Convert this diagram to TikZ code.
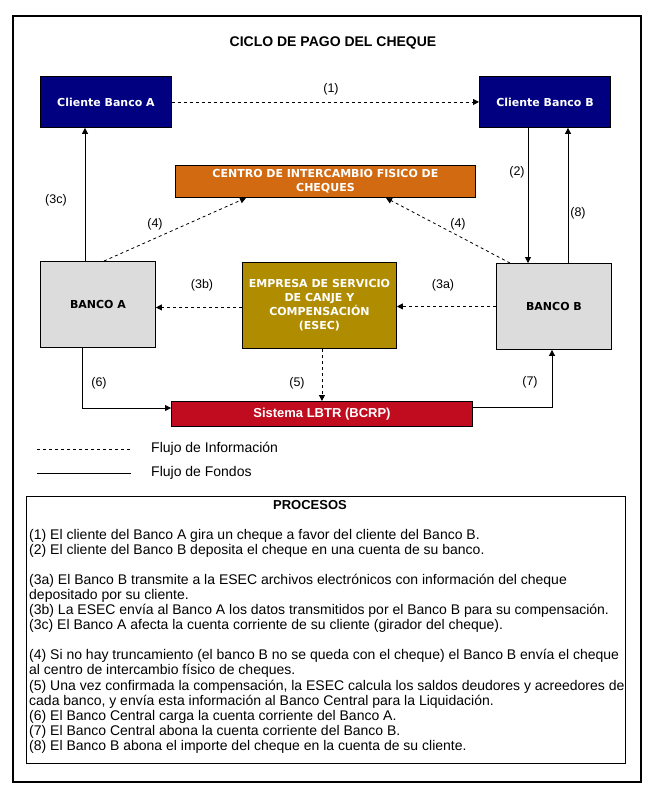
\documentclass[tikz,border=0pt]{standalone}
\usepackage{fontspec}
\setmainfont{Liberation Sans}
\newfontfamily\vfont{DejaVu Sans}
\usetikzlibrary{arrows.meta}
\definecolor{navyc}{HTML}{000080}
\definecolor{orangec}{HTML}{D26A12}
\definecolor{goldc}{HTML}{B08C00}
\definecolor{redc}{HTML}{C00C1E}
\definecolor{grayc}{HTML}{DCDCDC}
\begin{document}
\begin{tikzpicture}[x=1pt,y=-1pt,
  box/.style={draw=black,line width=0.9pt,anchor=north west,inner sep=0pt,align=center,
    font=\vfont\bfseries\fontsize{11}{14}\selectfont},
  tip/.style={-{Triangle[length=6pt,width=6pt]}},
  info/.style={tip,dash pattern=on 3pt off 3pt,line width=0.8pt},
  fund/.style={tip,line width=0.8pt},
  lbl/.style={font=\fontsize{12.5}{14}\selectfont,inner sep=0pt}]
\useasboundingbox (0,0) rectangle (649,798);
\fill[white] (0,0) rectangle (649,798);
\draw[line width=2pt] (13,16) rectangle (641,782);
\node[font=\bfseries\fontsize{14}{16}\selectfont] (title) at (333,43) {CICLO DE PAGO DEL CHEQUE};
% boxes
\node[box,fill=navyc,text=white,minimum width=131pt,minimum height=51pt] (cA) at (40,76) {Cliente Banco A};
\node[box,fill=navyc,text=white,minimum width=131pt,minimum height=51pt] (cB) at (479,76) {Cliente Banco B};
\node[box,fill=orangec,text=white,minimum width=300pt,minimum height=32pt] (centro) at (175,165) {CENTRO DE INTERCAMBIO FISICO DE\\CHEQUES};
\node[box,fill=grayc,minimum width=115pt,minimum height=86pt] (bA) at (40,261) {BANCO A};
\node[box,fill=goldc,text=white,minimum width=154pt,minimum height=86pt] (esec) at (242,262) {EMPRESA DE SERVICIO\\DE CANJE Y\\COMPENSACIÓN\\(ESEC)};
\node[box,fill=grayc,minimum width=115pt,minimum height=86pt] (bB) at (496,263) {BANCO B};
\node[box,fill=redc,text=white,minimum width=301pt,minimum height=25pt,font=\bfseries\fontsize{13}{15}\selectfont] (lbtr) at (171,401) {Sistema LBTR (BCRP)};
% connectors
\draw[info] (cA.east) -- (cB.west);
\draw[fund] ([xshift=45pt]bA.north west) -- ([xshift=45pt]cA.south west);
\draw[fund] ([xshift=49pt]cB.south west) -- ([xshift=32pt]bB.north west);
\draw[fund] ([xshift=72pt]bB.north west) -- ([xshift=89pt]cB.south west);
\draw[info] ([xshift=64pt]bA.north west) -- ([xshift=71pt]centro.south west);
\draw[info] ([xshift=14pt]bB.north west) -- ([xshift=211pt]centro.south west);
\draw[info] ([yshift=-2pt]esec.west) -- ([yshift=-2pt]esec.west -| bA.east);
\draw[info] (bB.west) -- (bB.west -| esec.east);
\draw[info] (esec.south -| lbtr.north) -- (lbtr.north);
\draw[fund] ([xshift=42pt]bA.south west) |- ([yshift=-7pt]lbtr.north west);
\draw[fund] ([yshift=-6pt]lbtr.north east) -| ([xshift=56pt]bB.south west);
% labels
\node[lbl] (l1) at (331,89) {(1)};
\node[lbl] (l2) at (517,172) {(2)};
\node[lbl] (l3c) at (56,200) {(3c)};
\node[lbl] (l8) at (578,213) {(8)};
\node[lbl] (l4a) at (155,224) {(4)};
\node[lbl] (l4b) at (458,224) {(4)};
\node[lbl] (l3b) at (202,285) {(3b)};
\node[lbl] (l3a) at (443,285) {(3a)};
\node[lbl] (l6) at (99,383) {(6)};
\node[lbl] (l5) at (297,383) {(5)};
\node[lbl] (l7) at (530,382) {(7)};
% legend
\coordinate (d1) at (37,449); \coordinate (d2) at (131,449);
\coordinate (s1) at (37,473); \coordinate (s2) at (131,473);
\draw[dash pattern=on 3pt off 3pt,line width=0.8pt] (d1) -- (d2);
\draw[line width=0.8pt] (s1) -- (s2);
\node[lbl,anchor=west,font=\fontsize{14}{15}\selectfont] (legi) at (151,449) {Flujo de Información};
\node[lbl,anchor=west,font=\fontsize{14}{15}\selectfont] (legf) at (151,473) {Flujo de Fondos};
% processes
\node[draw,line width=0.8pt,anchor=north west,minimum width=599pt,minimum height=267pt,inner sep=0pt] (proc) at (26,496) {};
\node[font=\bfseries\fontsize{13}{15}\selectfont] (ptitle) at (310,505) {PROCESOS};
\node[anchor=north west,inner sep=0pt,align=left,font=\fontsize{14}{15.07}\selectfont] (ptext) at (29,529) {%
(1) El cliente del Banco A gira un cheque a favor del cliente del Banco B.\\
(2) El cliente del Banco B deposita el cheque en una cuenta de su banco.\\
\mbox{}\\
(3a) El Banco B transmite a la ESEC archivos electrónicos con información del cheque\\
depositado por su cliente.\\
(3b) La ESEC envía al Banco A los datos transmitidos por el Banco B para su compensación.\\
(3c) El Banco A afecta la cuenta corriente de su cliente (girador del cheque).\\
\mbox{}\\
(4) Si no hay truncamiento (el banco B no se queda con el cheque) el Banco B envía el cheque\\
al centro de intercambio físico de cheques.\\
(5) Una vez confirmada la compensación, la ESEC calcula los saldos deudores y acreedores de\\
cada banco, y envía esta información al Banco Central para la Liquidación.\\
(6) El Banco Central carga la cuenta corriente del Banco A.\\
(7) El Banco Central abona la cuenta corriente del Banco B.\\
(8) El Banco B abona el importe del cheque en la cuenta de su cliente.};
\end{tikzpicture}
\end{document}
